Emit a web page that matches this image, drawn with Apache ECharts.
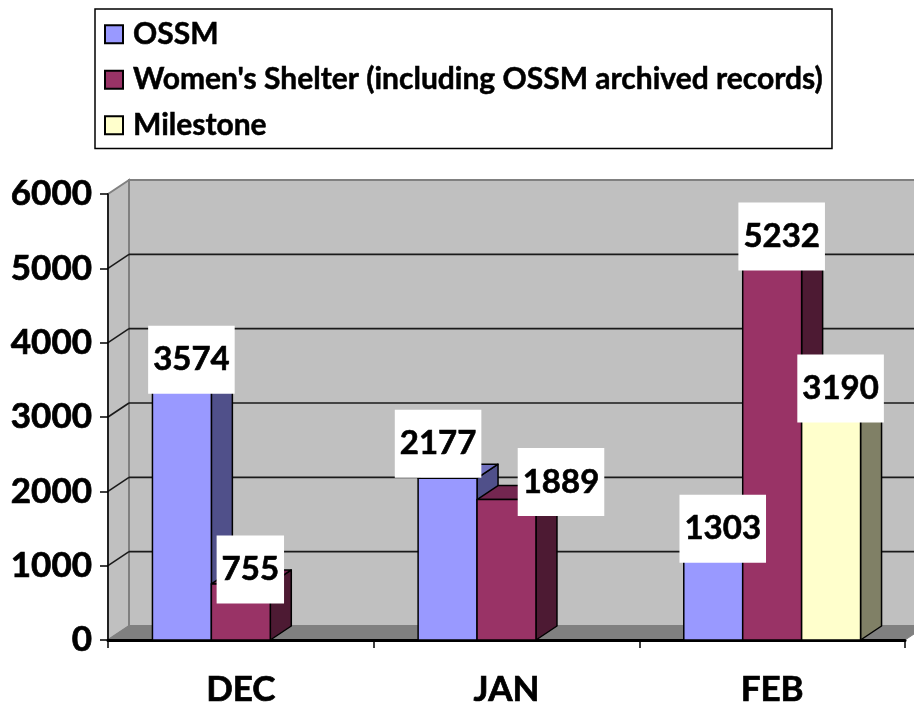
<!DOCTYPE html>
<html><head><meta charset="utf-8">
<style>html,body{margin:0;padding:0;background:#fff}#c{width:914px;height:704px}</style>
<script src="https://cdn.jsdelivr.net/npm/echarts@6/dist/echarts.min.js"></script>
</head><body><div id="c"></div>
<script>
const categories = ['DEC', 'JAN', 'FEB'];
const yTicks = [0, 1000, 2000, 3000, 4000, 5000, 6000];
const ossm = [3574, 2177, 1303];
const shelter = [755, 1889, 5232];
const milestone = [null, null, 3190];
const names = ['OSSM', "Women's Shelter (including OSSM archived records)", 'Milestone'];
const values = [ossm, shelter, milestone];
const fronts = ['#9999FF', '#993366', '#FFFFCC'];
const sides = ['#50508A', '#4D1A33', '#808066'];
const tops = ['#7272BF', '#732650', '#BFBF99'];

const DX = 21, DY = -14, BAR_RATIO = 0.2218;
const FONT = 'Lato, "Open Sans", sans-serif';
// hand-moved data labels in the source chart: "category,series" -> extra shift
const labelNudge = { '1,0': [-19, -20], '1,1': [45, -3] };
const heavy = { textBorderColor: '#000', textBorderWidth: 0.7 };

function barRender(si) {
  return function (params, api) {
    const v = api.value(1);
    if (v == null || isNaN(v)) return null;
    const center = api.coord([api.value(0), 0]);
    const top = api.coord([api.value(0), v]);
    const w = api.size([1, 0])[0] * BAR_RATIO;
    const x0 = center[0] + (si - 1.5) * w, x1 = x0 + w;
    const y0 = center[1], y1 = top[1];
    const line = { stroke: '#000', lineWidth: 1.5, lineJoin: 'round' };
    return { type: 'group', children: [
      { type: 'polygon', shape: { points: [[x1, y0], [x1 + DX, y0 + DY], [x1 + DX, y1 + DY], [x1, y1]] },
        style: Object.assign({ fill: sides[si] }, line) },
      { type: 'polygon', shape: { points: [[x0, y1], [x1, y1], [x1 + DX, y1 + DY], [x0 + DX, y1 + DY]] },
        style: Object.assign({ fill: tops[si] }, line) },
      { type: 'rect', shape: { x: x0, y: y1, width: w, height: y0 - y1 },
        style: Object.assign({ fill: fronts[si] }, line) }
    ] };
  };
}

const barSeries = names.map((name, si) => ({
  type: 'custom', name, z: 3,
  itemStyle: { color: fronts[si], borderColor: '#000', borderWidth: 1.5 },
  renderItem: barRender(si),
  encode: { x: 0, y: 1 },
  data: values[si].map((v, ci) => [ci, v])
}));

const labelData = [];
values.forEach((arr, si) => arr.forEach((v, ci) => { if (v != null) labelData.push([ci, v, si]); }));

const option = {
  animation: false,
  backgroundColor: '#fff',
  grid: { left: 108, right: 9, top: 194, bottom: 64, containLabel: false, outerBoundsMode: 'none' },
  legend: {
    left: 95, top: 9, orient: 'vertical',
    data: names, icon: 'rect', itemWidth: 18, itemHeight: 18, itemGap: 15,
    padding: [10, 9, 8, 9],
    backgroundColor: '#fff', borderColor: '#000', borderWidth: 1.5,
    selectedMode: false,
    textStyle: { fontFamily: FONT, fontWeight: 'bold', fontSize: 30, color: '#000', lineHeight: 28, padding: [0, 0, 0, 5], textBorderColor: '#000', textBorderWidth: 0.5 }
  },
  xAxis: {
    type: 'category', data: categories, z: 2,
    axisLine: { lineStyle: { color: '#000', width: 3 } },
    axisTick: { show: true, length: 8, lineStyle: { color: '#000', width: 1.5 } },
    axisLabel: Object.assign({ fontFamily: FONT, fontWeight: 'bold', fontSize: 35, color: '#000', margin: 32 }, heavy)
  },
  yAxis: {
    type: 'value', min: 0, max: 6000, interval: 1000, z: 2,
    axisLine: { show: true, lineStyle: { color: '#000', width: 1.5 } },
    axisTick: { show: true, length: 8, lineStyle: { color: '#000', width: 1.5 } },
    splitLine: { show: false },
    axisLabel: Object.assign({ fontFamily: FONT, fontWeight: 'bold', fontSize: 35, color: '#000', margin: 16,
      padding: [8, 0, 0, 0], formatter: v => String(v) }, heavy)
  },
  series: [
    { type: 'custom', z: 1, silent: true, data: [[0]],
      renderItem: function (params, api) {
        const c = params.coordSys;
        const l = c.x, r = c.x + c.width, t = c.y, b = c.y + c.height;
        const edge = { stroke: '#808080', lineWidth: 2 };
        return { type: 'group', children: [
          { type: 'polygon', shape: { points: [[l + DX, t + DY], [r + DX, t + DY], [r + DX, b + DY], [l + DX, b + DY]] },
            style: Object.assign({ fill: '#C0C0C0' }, edge) },
          { type: 'polygon', shape: { points: [[l, t], [l + DX, t + DY], [l + DX, b + DY], [l, b]] },
            style: Object.assign({ fill: '#C0C0C0' }, edge) },
          { type: 'polygon', shape: { points: [[l, b], [l + DX, b + DY], [r + DX, b + DY], [r, b]] },
            style: { fill: '#808080', stroke: '#808080', lineWidth: 1 } }
        ] };
      } },
    { type: 'custom', z: 1, silent: true, encode: { y: 0 }, data: yTicks.map(v => [v]),
      renderItem: function (params, api) {
        const v = api.value(0);
        if (v === 0 || v === 6000) return null;
        const c = params.coordSys;
        const y = api.coord([0, v])[1];
        const s = { stroke: '#1a1a1a', lineWidth: 1.6 };
        return { type: 'group', children: [
          { type: 'line', shape: { x1: c.x, y1: y, x2: c.x + DX, y2: y + DY }, style: s },
          { type: 'line', shape: { x1: c.x + DX, y1: y + DY, x2: c.x + c.width + DX, y2: y + DY }, style: s }
        ] };
      } }
  ].concat(barSeries, [
    { type: 'custom', z: 5, silent: true, encode: { x: 0, y: 1 }, data: labelData,
      renderItem: function (params, api) {
        const ci = api.value(0), si = api.value(2);
        const center = api.coord([ci, api.value(1)]);
        const w = api.size([1, 0])[0] * BAR_RATIO;
        const n = labelNudge[ci + ',' + si] || [0, 0];
        const cx = center[0] + (si - 1) * w + 9.5 + n[0];
        const cy = center[1] - 14.5 + n[1];
        return { type: 'text', style: {
          text: String(api.value(1)), x: cx, y: cy, align: 'center', verticalAlign: 'middle',
          fontFamily: FONT, fontWeight: 'bold', fontSize: 33, lineHeight: 36, fill: '#000',
          stroke: '#000', lineWidth: 0.6,
          backgroundColor: '#fff', padding: [20, 5, 12, 5]
        } };
      } }
  ])
};
const chart = echarts.init(document.getElementById('c'), null, { renderer: 'canvas' });
chart.setOption(option);
</script></body></html>
